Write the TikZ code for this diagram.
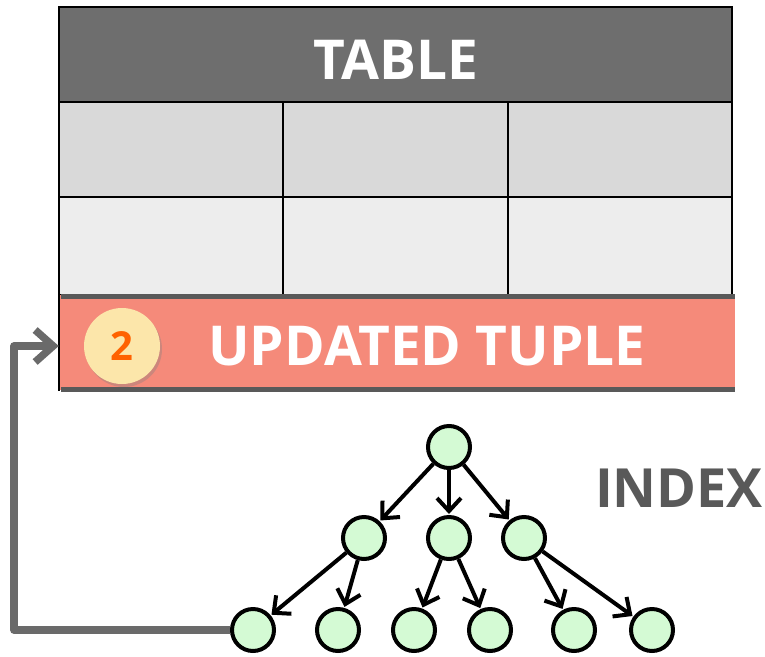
\documentclass[tikz,border=0pt]{standalone}
\usepackage{fontspec}
\setmainfont{Open Sans}
\usetikzlibrary{shapes,arrows.meta,positioning,calc,shadows}
\usepackage{xcolor}

\definecolor{headgray}{HTML}{6E6E6E}
\definecolor{rowone}{HTML}{D9D9D9}
\definecolor{rowtwo}{HTML}{EDEDED}
\definecolor{tuplered}{HTML}{F58A7A}
\definecolor{badge}{HTML}{FCE6AA}
\definecolor{badgetext}{HTML}{FF6200}
\definecolor{leafgreen}{HTML}{D4FAD4}
\definecolor{linkgray}{HTML}{6A6A6A}
\definecolor{labelgray}{HTML}{595959}

\tikzset{
    cell/.style={draw=black, line width=2.4pt},
    treenode/.style={circle, draw=black, line width=4pt, fill=leafgreen, minimum size=42pt, inner sep=0pt},
    treeedge/.style={line width=4pt, -{Straight Barb[length=13pt,width=24pt,line width=4pt]}, shorten >=1pt},
}

\begin{document}
\begin{tikzpicture}[x=1pt, y=-1pt]
    \useasboundingbox (0,0) rectangle (765,656);
    % Table header and rows
    \fill[headgray] (59,7) rectangle (732,102);
    \fill[rowone] (59,102) rectangle (732,197);
    \fill[rowtwo] (59,197) rectangle (732,295);
    \draw[cell] (59,7) rectangle (732,295);
    \draw[cell] (59,102) -- (732,102);
    \draw[cell] (59,197) -- (732,197);
    \draw[cell] (283,102) -- (283,295);
    \draw[cell] (508,102) -- (508,295);
    \node[font=\bfseries\fontsize{55}{55}\selectfont, text=white] (title) at (396,60) {TABLE};
    % Updated tuple row
    \fill[tuplered] (59,295) rectangle (735,390);
    \draw[labelgray, line width=5pt] (61,296) -- (735,296);
    \draw[labelgray, line width=5pt] (61,389) -- (735,389);
    \draw[black, line width=2.4pt] (59,294) -- (59,391);
    \node[inner sep=0pt, minimum width=676pt, minimum height=90pt] (tuple) at (397,343) {};
    \node[font=\bfseries\fontsize{55}{55}\selectfont, text=white] (tuplelabel) at (427,346) {UPDATED TUPLE};
    \node[circle, fill=badge, minimum size=76pt, inner sep=0pt,
          drop shadow={shadow xshift=2pt, shadow yshift=-3pt, opacity=0.35}] (step) at (122,346) {};
    \node[font=\bfseries\fontsize{40}{40}\selectfont, text=badgetext] at (step.center) {2};
    % Index tree
    \node[font=\bfseries\fontsize{54}{54}\selectfont, text=labelgray] (index) at (679,488) {INDEX};
    \node[treenode] (root) at (449,447) {};
    \node[treenode] (a) at (364,538) {};
    \node[treenode] (b) at (449,538) {};
    \node[treenode] (c) at (524,538) {};
    \node[treenode] (a1) at (253,630) {};
    \node[treenode] (a2) at (338,630) {};
    \node[treenode] (b1) at (414,630) {};
    \node[treenode] (b2) at (490,630) {};
    \node[treenode] (c1) at (574,630) {};
    \node[treenode] (c2) at (652,630) {};
    \foreach \from/\to in {root/a, root/b, root/c, a/a1, a/a2, b/b1, b/b2, c/c1, c/c2}
        \draw[treeedge] (\from) -- (\to);
    % Pointer from the leaf back to the tuple
    \coordinate (bend) at (14,630);
    \coordinate (rise) at (14,346);
    \draw[linkgray, line width=7.5pt, line join=round,
          -{Straight Barb[length=18pt,width=32pt,line width=7.5pt]}]
        (a1.west) -- (bend) -- (rise) -- (tuple.west |- step);
\end{tikzpicture}
\end{document}
